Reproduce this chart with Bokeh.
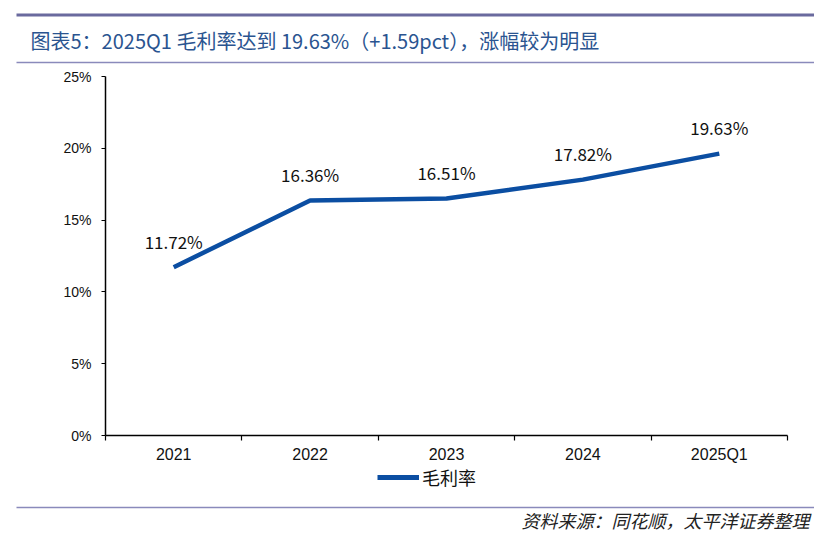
import numpy as np
from bokeh.plotting import figure
from bokeh.layouts import column
from bokeh.models import (ColumnDataSource, FixedTicker, PrintfTickFormatter, Label,
                          Range1d, Legend, LegendItem)
from bokeh.core.properties import value
from bokeh.embed import file_html
from bokeh.resources import INLINE

categories = ["2021", "2022", "2023", "2024", "2025Q1"]
gross_margin = [11.72, 16.36, 16.51, 17.82, 19.63]
value_labels = ["11.72%", "16.36%", "16.51%", "17.82%", "19.63%"]
y_ticks = [0, 5, 10, 15, 20, 25]

title_text = "图表5：2025Q1 毛利率达到 19.63%（+1.59pct），涨幅较为明显"
source_text = "资料来源：同花顺，太平洋证券整理"
series_name = "毛利率"

W = 814
HEAD_H, MAIN_H, FOOT_H = 64, 401, 68
LINE_COLOR = "#0b4ea2"
CJK = "Noto Sans CJK SC"


def deco_fig(h):
    f = figure(width=W, height=h, output_backend="svg", toolbar_location=None,
               x_range=Range1d(0, W), y_range=Range1d(h, 0),
               x_axis_type=None, y_axis_type=None, min_border=0,
               background_fill_color="white", border_fill_color="white")
    f.outline_line_color = None
    f.grid.grid_line_color = None
    f.frame_align = False
    return f


# header
head = deco_fig(HEAD_H)
head.segment(x0=[16], y0=[14.5], x1=[W], y1=[14.5], line_color="#6a6a9e", line_width=3)
head.segment(x0=[16], y0=[62], x1=[W], y1=[62], line_color="#8a8abb", line_width=1.5)
head.add_layout(Label(x=30, y=40, text=title_text, text_font=CJK, text_font_size="20px",
                      text_color="#2a5490", text_baseline="middle"))

# main chart
p = figure(width=W, height=MAIN_H, output_backend="svg", toolbar_location=None,
           x_range=(-0.5, len(categories) - 0.5), y_range=(0, 25),
           min_border_left=105, min_border_right=W - 787, min_border_top=12, min_border_bottom=30,
           background_fill_color="white", border_fill_color="white")
p.outline_line_color = None
p.grid.grid_line_color = None
p.frame_align = False

xs = list(range(len(categories)))
src = ColumnDataSource(dict(x=xs, y=gross_margin, lab=value_labels))
line = p.line("x", "y", source=src, line_color=LINE_COLOR, line_width=4.5)
p.text("x", "y", text="lab", source=src, text_align="center", text_baseline="middle",
       y_offset=-26, text_font_size="17px", text_color="#111111", text_font=value(CJK))

xa = p.xaxis[0]
xa.ticker = FixedTicker(ticks=xs, minor_ticks=[i - 0.5 for i in range(len(categories) + 1)])
xa.major_label_overrides = {i: c for i, c in enumerate(categories)}
xa.major_tick_line_color = None
xa.minor_tick_line_color = "#000000"
xa.minor_tick_line_width = 1.2
xa.minor_tick_in = 0
xa.minor_tick_out = 5
xa.axis_line_color = "#000000"
xa.axis_line_width = 1.5
xa.major_label_standoff = 4
xa.major_label_text_font = "Liberation Sans"
xa.major_label_text_font_size = "16px"
xa.major_label_text_color = "#111111"

ya = p.yaxis[0]
ya.ticker = FixedTicker(ticks=y_ticks)
ya.formatter = PrintfTickFormatter(format="%d%%")
ya.minor_tick_line_color = None
ya.major_tick_in = 0
ya.major_tick_out = 4
ya.axis_line_color = "#000000"
ya.axis_line_width = 1.5
ya.major_tick_line_color = "#000000"
ya.major_label_standoff = 10
ya.major_label_text_font = "Liberation Sans"
ya.major_label_text_font_size = "14px"
ya.major_label_text_color = "#111111"

# footer with legend and source
foot = deco_fig(FOOT_H)
swatch = foot.line(x=np.array([np.nan]), y=np.array([np.nan]), line_color=LINE_COLOR, line_width=5)
legend = Legend(items=[LegendItem(label=series_name, renderers=[swatch])],
                location=(377, 43), padding=0, margin=0,
                label_standoff=3, glyph_width=42, glyph_height=22, label_height=22,
                border_line_color=None, background_fill_alpha=0,
                label_text_font=CJK, label_text_font_size="18px",
                label_text_color="#111111", label_text_baseline="middle")
foot.add_layout(legend, "center")
foot.segment(x0=[16], y0=[42], x1=[W], y1=[42], line_color="#8a8abb", line_width=1.5)
foot.add_layout(Label(x=809, y=54, text=source_text, text_font=CJK, text_font_size="18px",
                      text_color="#222222", text_font_style="italic", text_align="right",
                      text_baseline="middle"))

layout = column(head, p, foot, spacing=0)
open("out.html", "w").write(file_html(layout, INLINE))
